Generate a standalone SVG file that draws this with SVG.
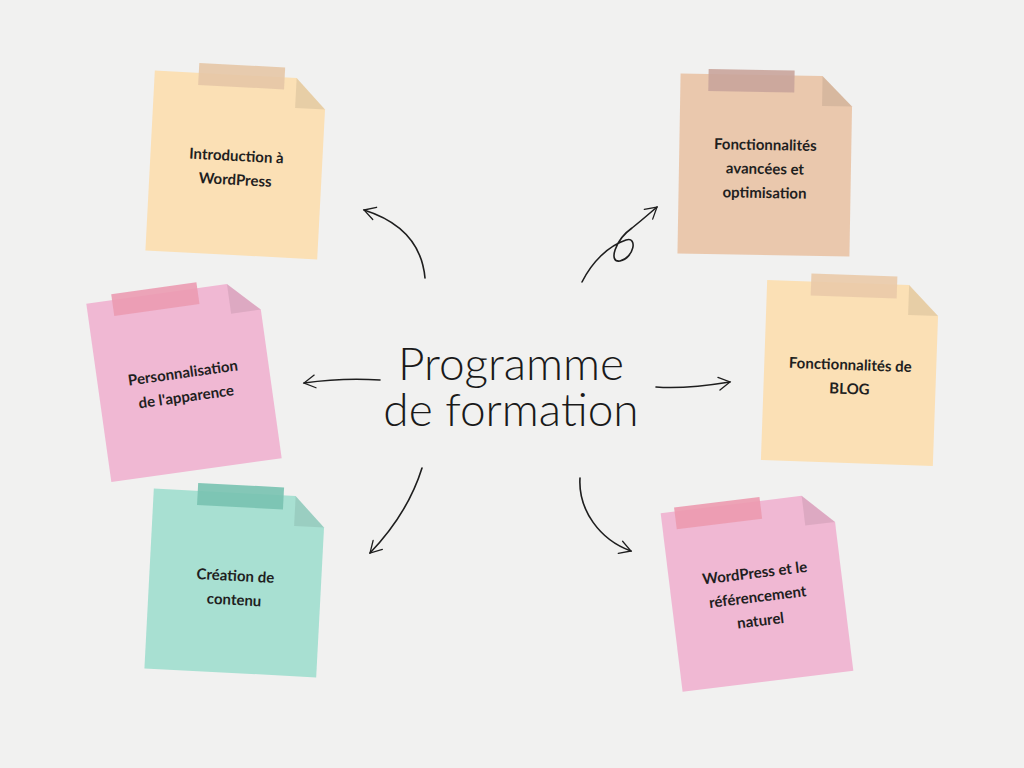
<svg xmlns="http://www.w3.org/2000/svg" width="1024" height="768" viewBox="0 0 1024 768">
<defs>
<marker id="ah" viewBox="0 0 20 20" refX="16" refY="10" markerWidth="16" markerHeight="16" markerUnits="userSpaceOnUse" orient="auto">
<path d="M2,2 L16,10 L2,18" fill="none" stroke="#1e1e1e" stroke-width="1.6" stroke-linecap="round"/>
</marker>
<path id="note" d="M-86,-90 L56,-90 L86,-60 L86,90 L-86,90 Z"/>
<path id="fold" d="M56,-90 L56,-60 L86,-60 Z"/>
</defs>
<style>
.t{font-family:"Lato","Noto Sans",sans-serif;font-weight:700;font-size:15px;fill:#1f1f1f;text-anchor:middle}
.title{font-family:"Lato","Noto Sans",sans-serif;font-weight:300;font-size:46px;fill:#1a1a1a;text-anchor:middle}
.c{fill:none;stroke:#1e1e1e;stroke-width:1.6;stroke-linecap:round;marker-end:url(#ah)}
.fold{fill:#000;opacity:0.08}
</style>
<rect width="1024" height="768" fill="#f1f1f0"/>

<g id="n1" transform="translate(236,165) rotate(3)">
<use href="#note" fill="#fbe0b5"/><use href="#fold" class="fold"/>
<rect x="-42" y="-100" width="86" height="22" fill="#e6c7a6" opacity="0.9"/>
<text class="t" x="0" y="-4">Introduction à</text><text class="t" x="0" y="20">WordPress</text>
</g>
<g id="n2" transform="translate(765,165) rotate(1)">
<use href="#note" fill="#eac8ad"/><use href="#fold" class="fold"/>
<rect x="-58" y="-95" width="86" height="22" fill="#c9a49b" opacity="0.9"/>
<text class="t" x="0" y="-15">Fonctionnalités</text><text class="t" x="0" y="9">avancées et</text><text class="t" x="0" y="33">optimisation</text>
</g>
<g id="n3" transform="translate(184,381) rotate(-8)">
<use href="#note" fill="#f0b8d3"/><use href="#fold" class="fold"/>
<rect x="-60" y="-96" width="86" height="22" fill="#eb9bb1" opacity="0.9"/>
<text class="t" x="0" y="-3">Personnalisation</text><text class="t" x="0" y="21">de l'apparence</text>
</g>
<g id="n4" transform="translate(850,373) rotate(2)">
<use href="#note" fill="#fbe0b5"/><use href="#fold" class="fold"/>
<rect x="-42" y="-98" width="86" height="22" fill="#eacaa9" opacity="0.9"/>
<text class="t" x="0" y="-3">Fonctionnalités de</text><text class="t" x="0" y="21">BLOG</text>
</g>
<g id="n5" transform="translate(235,583) rotate(3)">
<use href="#note" fill="#a8e0d2"/><use href="#fold" class="fold"/>
<rect x="-42" y="-98" width="86" height="22" fill="#78c2b0" opacity="0.9"/>
<text class="t" x="0" y="-2">Création de</text><text class="t" x="0" y="22">contenu</text>
</g>
<g id="n6" transform="translate(757,592) rotate(-7)">
<use href="#note" fill="#f0b8d3"/><use href="#fold" class="fold"/>
<rect x="-72" y="-94" width="86" height="22" fill="#ec9aaf" opacity="0.9"/>
<text class="t" x="0" y="-14">WordPress et le</text><text class="t" x="0" y="10">référencement</text><text class="t" x="0" y="34">naturel</text>
</g>

<g id="title">
<text class="title" x="511" y="380">Programme</text>
<text class="title" x="511" y="426">de formation</text>
</g>

<g id="connectors">
<path class="c" d="M425,278 C422,245 402,222 364,210"/>
<path class="c" d="M582,282 C592,262 608,246 626,240 C638,236 634,258 620,261 C608,263 615,240 632,228 C642,220 650,213 657,207"/>
<path class="c" d="M380,380 C350,378 325,380 304,383"/>
<path class="c" d="M656,387 C680,389 705,386 730,382"/>
<path class="c" d="M422,468 C412,500 392,530 370,553"/>
<path class="c" d="M580,478 C578,510 600,540 631,551"/>
</g>
</svg>
